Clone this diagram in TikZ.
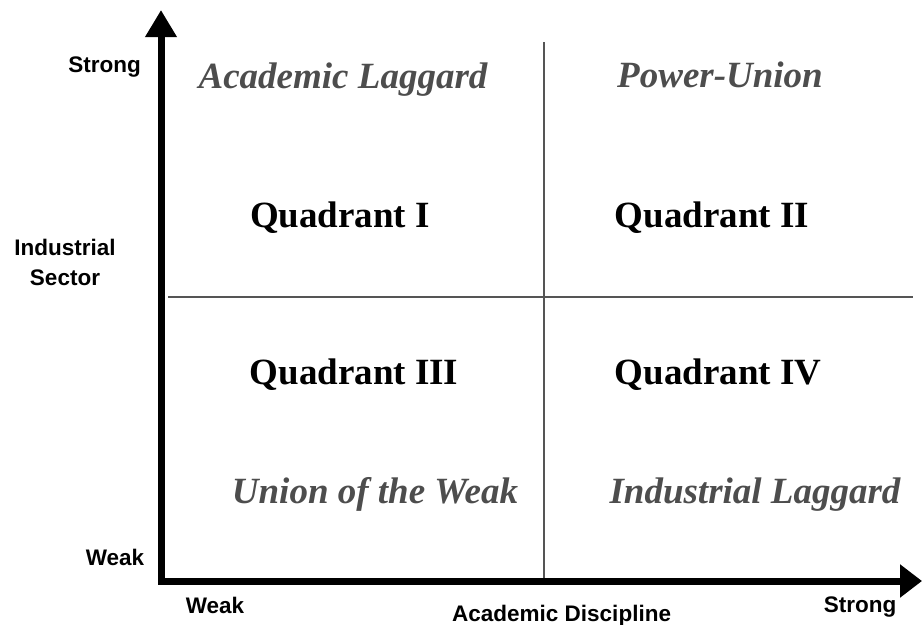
\documentclass[tikz,border=0pt]{standalone}
\usepackage{fontspec}
\setmainfont{Liberation Serif}
\setsansfont{Liberation Sans}
\usetikzlibrary{arrows.meta}
\definecolor{labelgray}{HTML}{4D4D4D}
\definecolor{divgray}{HTML}{555555}
\begin{document}
\begin{tikzpicture}[x=1pt, y=-1pt,
    axislabel/.style={font=\sffamily\bfseries\fontsize{22.5}{30}\selectfont, inner sep=0pt, anchor=base},
    quadname/.style={font=\bfseries\fontsize{37}{40}\selectfont, inner sep=0pt, anchor=base},
    typename/.style={font=\bfseries\itshape\fontsize{37}{40}\selectfont, text=labelgray, inner sep=0pt, anchor=base},
    divider/.style={draw=divgray, line width=1.5pt}]
      \useasboundingbox (0, 0) rectangle (923, 624);
      % axes
      \coordinate (ytip) at (161, 10);
      \coordinate (origin) at (161, 581);
      \coordinate (xtip) at (922, 581);
      \draw [line width=7pt, line join=miter,
             {Triangle[length=27pt, width=30pt]}-{Triangle[length=22pt, width=32pt]}]
            (ytip) -- (origin) -- (xtip);
      % quadrant dividers
      \draw [divider] (544, 42) coordinate (vtop) -- (544, 578) coordinate (vbot);
      \draw [divider] (168, 297) coordinate (hleft) -- (913, 297) coordinate (hright);
      % axis labels
      \node (ystrong) [axislabel] at (104.5, 72) {Strong};
      \node (ysector) [axislabel, align=center] at (65, 285) {Industrial\\Sector};
      \node (yweak) [axislabel] at (115, 565) {Weak};
      \node (xweak) [axislabel] at (215, 613) {Weak};
      \node (xtitle) [axislabel, anchor=base west] at (452, 621) {Academic Discipline};
      \node (xstrong) [axislabel] at (860, 612) {Strong};
      % quadrants
      \node (q1) [quadname] at (340, 227) {Quadrant I};
      \node (q2) [quadname] at (712, 227) {Quadrant II};
      \node (q3) [quadname] at (354, 384) {Quadrant III};
      \node (q4) [quadname] at (718, 384) {Quadrant IV};
      \node (acadlag) [typename] at (343, 88) {Academic Laggard};
      \node (powunion) [typename] at (720, 87) {Power-Union};
      \node (weakunion) [typename] at (375, 503) {Union of the Weak};
      \node (indlag) [typename] at (755, 503) {Industrial Laggard};
\end{tikzpicture}
\end{document}
